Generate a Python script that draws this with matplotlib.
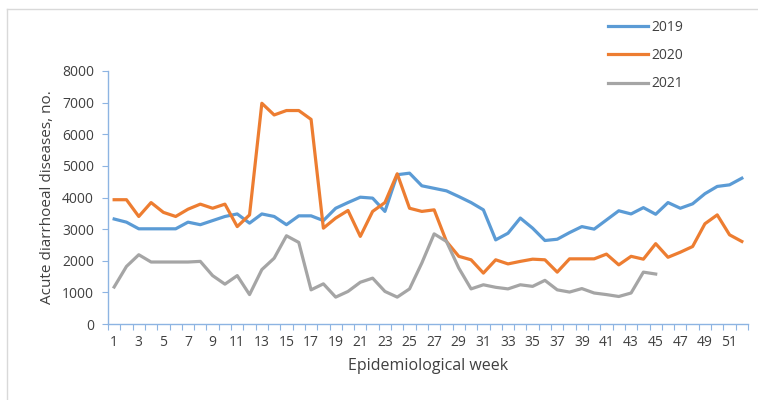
import matplotlib
matplotlib.use("Agg")
import matplotlib.pyplot as plt
from matplotlib.lines import Line2D

weeks = list(range(1, 53))
weeks_2021 = list(range(1, 46))

y2019 = [3320, 3220, 3010, 3010, 3010, 3010, 3220, 3140, 3270, 3400,
         3480, 3190, 3480, 3400, 3140, 3420, 3420, 3270, 3660, 3840,
         4010, 3980, 3560, 4720, 4770, 4370, 4290, 4210, 4030, 3840,
         3610, 2660, 2870, 3350, 3030, 2640, 2680, 2890, 3080, 3000,
         3290, 3580, 3480, 3680, 3470, 3840, 3660, 3800, 4120, 4350,
         4400, 4610]
y2020 = [3930, 3930, 3400, 3840, 3530, 3400, 3630, 3790, 3660, 3790,
         3080, 3450, 6980, 6610, 6750, 6750, 6470, 3030, 3350, 3590,
         2770, 3560, 3840, 4750, 3660, 3560, 3610, 2610, 2140, 2030,
         1610, 2030, 1900, 1980, 2050, 2030, 1640, 2060, 2060, 2060,
         2210, 1870, 2140, 2050, 2540, 2110, 2270, 2450, 3170, 3450,
         2820, 2610]
y2021 = [1170, 1820, 2190, 1960, 1960, 1960, 1960, 1980, 1530, 1260,
         1530, 930, 1720, 2080, 2790, 2580, 1080, 1270, 850, 1030,
         1320, 1450, 1030, 850, 1110, 1930, 2850, 2610, 1770, 1110,
         1240, 1160, 1110, 1240, 1190, 1380, 1080, 1010, 1120, 980,
         930, 870, 980, 1640, 1580]

series_labels = ["2019", "2020", "2021"]
colors = ["#5B9BD5", "#ED7D31", "#A5A5A5"]
yticks = [0, 1000, 2000, 3000, 4000, 5000, 6000, 7000, 8000]
xlabels = list(range(1, 52, 2))

FONT = "Open Sans"
axis_color = "#8DB4E2"
text_color = "#404040"

W, H = 758, 400
fig = plt.figure(figsize=(W / 100, H / 100), dpi=100)
ax = fig.add_axes([108 / W, 1 - 324 / H, (748 - 108) / W, (324 - 71) / H])

ax.plot(weeks, y2019, color=colors[0], lw=2.3, label=series_labels[0], solid_joinstyle="round")
ax.plot(weeks, y2020, color=colors[1], lw=2.3, label=series_labels[1], solid_joinstyle="round")
ax.plot(weeks_2021, y2021, color=colors[2], lw=2.3, label=series_labels[2], solid_joinstyle="round")

ax.set_xlim(0.5, 52.5)
ax.set_ylim(0, 8000)
for s in ["top", "right"]:
    ax.spines[s].set_visible(False)
for s in ["left", "bottom"]:
    ax.spines[s].set_color(axis_color)
    ax.spines[s].set_linewidth(1.0)

ax.set_yticks(yticks)
ax.set_yticklabels([str(v) for v in yticks], fontsize=10, family=FONT, color=text_color)
ax.tick_params(axis="y", direction="out", length=4, color=axis_color, pad=6)

ax.set_xticks([w + 0.5 for w in range(0, 53)])
ax.set_xticklabels([])
ax.tick_params(axis="x", which="major", direction="out", length=4, color=axis_color)
ax.set_xticks(xlabels, minor=True)
ax.set_xticklabels([str(v) for v in xlabels], minor=True, fontsize=10, family=FONT, color=text_color)
ax.tick_params(axis="x", which="minor", length=0, pad=8)

ax.set_ylabel("Acute diarrhoeal diseases, no.", fontsize=11, family=FONT, color=text_color, labelpad=5)
ax.set_xlabel("Epidemiological week", fontsize=11.5, family=FONT, color=text_color, labelpad=6)

leg = fig.legend(loc="upper left", bbox_to_anchor=(608 / W, 1 - 20 / H), frameon=False,
                 prop={"family": FONT, "size": 10}, handlelength=2.9, handletextpad=0.2,
                 labelspacing=0.95, borderpad=0, borderaxespad=0)
for t in leg.get_texts():
    t.set_color(text_color)

fig.add_artist(Line2D([7 / W, 1], [1 - 9 / H, 1 - 9 / H], transform=fig.transFigure, color="#D9D9D9", lw=1))
fig.add_artist(Line2D([7 / W, 7 / W], [0, 1 - 9 / H], transform=fig.transFigure, color="#D9D9D9", lw=1))

fig.savefig("out.png", dpi=100)
